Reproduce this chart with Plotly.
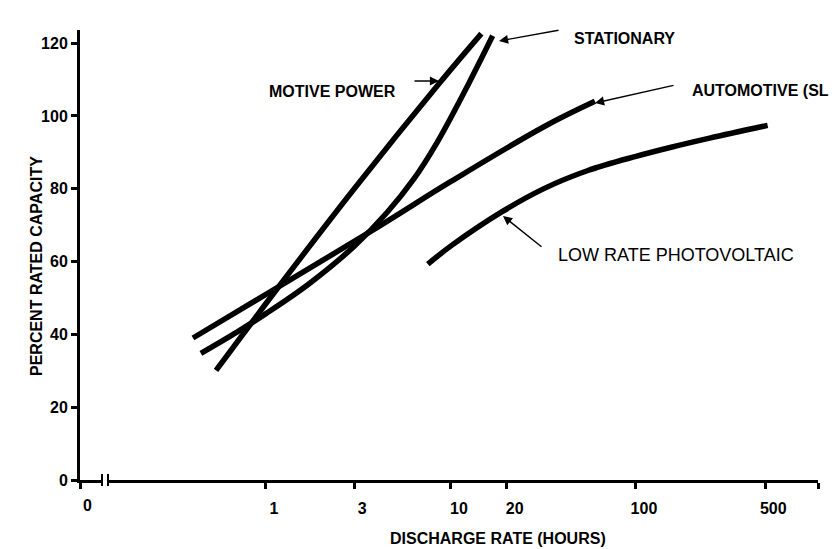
import math
import plotly.graph_objects as go

# ---- data ----
MOTIVE_H = [0.537, 1.16, 3.0, 8.7, 14.6]
MOTIVE_V = [30.1, 52.8, 80.0, 109.1, 122.6]

STATIONARY_H = [0.445, 0.7, 1.0, 1.69, 3.0, 4.5, 6.3, 8.5, 12.5, 16.8]
STATIONARY_V = [34.8, 40.7, 45.7, 53.7, 64.2, 73.4, 82.7, 93.1, 109.0, 122.0]

AUTOMOTIVE_H = [0.403, 1.0, 4.0, 10.0, 32.0, 60.0]
AUTOMOTIVE_V = [39.0, 51.0, 69.4, 82.0, 97.1, 104.0]

PV_H = [7.5, 10.0, 18.9, 32.0, 55.0, 100.0, 155.0, 250.0, 515.0]
PV_V = [59.3, 64.3, 73.7, 80.1, 85.0, 88.9, 91.4, 93.9, 97.4]

X_TICK_VALS = [1, 3, 10, 20, 100, 500]
X_TICK_TEXT = ["1", "3", "10", "20", "100", "500"]
Y_TICK_VALS = [0, 20, 40, 60, 80, 100, 120]

X_MIN, X_MAX = 0.0988, 964.0
Y_MAX = 123.6

FONT = "Liberation Sans, Arial, Helvetica, sans-serif"
BOLD = dict(family=FONT, size=16, color="black", weight="bold")

fig = go.Figure()
for h, v in [(MOTIVE_H, MOTIVE_V), (STATIONARY_H, STATIONARY_V),
             (AUTOMOTIVE_H, AUTOMOTIVE_V), (PV_H, PV_V)]:
    fig.add_trace(go.Scatter(x=h, y=v, mode="lines",
                             line=dict(color="black", width=5.5, shape="spline", smoothing=1.0),
                             showlegend=False, hoverinfo="skip"))

fig.update_layout(
    width=837, height=549,
    margin=dict(l=72, r=27, t=22, b=77),
    paper_bgcolor="white", plot_bgcolor="white",
    font=dict(family=FONT, size=16, color="black", weight="bold"),
    xaxis=dict(type="log", range=[math.log10(X_MIN), math.log10(X_MAX)],
               tickmode="array",
               tickvals=[X_MIN] + X_TICK_VALS + [X_MAX],
               ticktext=[""] + X_TICK_TEXT + [""],
               ticks="outside", ticklen=6, tickwidth=2.5, tickcolor="black",
               showline=True, linewidth=3, linecolor="black",
               showgrid=False, zeroline=False,
               ticklabelstandoff=6, ticklabelshift=8,
               tickfont=dict(family=FONT, size=16, color="black", weight="bold")),
    yaxis=dict(range=[0, Y_MAX], tickmode="array", tickvals=Y_TICK_VALS,
               ticks="outside", ticklen=6, tickwidth=2.5, tickcolor="black",
               showline=True, linewidth=3, linecolor="black",
               showgrid=False, zeroline=False,
               tickfont=dict(family=FONT, size=16, color="black", weight="bold")),
)

def px2paper(px, py):
    return (px - 72) / 738.0, (472 - py) / 450.0

anns = []
# "0" label at the axis origin (left of the axis break)
x, y = px2paper(73, 508)
anns.append(dict(x=x, y=y, xref="paper", yref="paper", text="0", showarrow=False,
                 font=dict(family=FONT, size=16, weight="bold")))
# axis titles
x, y = px2paper(490, 541)
anns.append(dict(x=x, y=y, xref="paper", yref="paper", text="DISCHARGE RATE (HOURS)",
                 showarrow=False, font=dict(family=FONT, size=16, weight="bold")))
x, y = px2paper(17.5, 258)
anns.append(dict(x=x, y=y, xref="paper", yref="paper", text="PERCENT RATED CAPACITY",
                 textangle=-90, showarrow=False, font=dict(family=FONT, size=16, weight="bold")))
# curve labels
for text, (cx, cy), anchor, fnt in [
    ("MOTIVE POWER", (324, 73), "center", BOLD),
    ("STATIONARY", (616, 20), "center", BOLD),
    ("AUTOMOTIVE (SLI)", (832, 72), "right", BOLD),
    ("LOW RATE PHOTOVOLTAIC", (548, 247), "left",
     dict(family=FONT, size=18, color="black", weight="normal")),
]:
    x, y = px2paper(cx, cy)
    anns.append(dict(x=x, y=y, xref="paper", yref="paper", text=text, xanchor=anchor,
                     showarrow=False, font=fnt))
# arrows: tip in pixel positions, tail offsets
for (tx, ty), (ax, ay) in [((431, 73), (-26, 0)), ((491, 33), (61, -11)),
                           ((587, 95), (80, -18)), ((495, 208), (40, 32))]:
    x, y = px2paper(tx, ty)
    anns.append(dict(x=x, y=y, xref="paper", yref="paper", text="", showarrow=True,
                     ax=ax, ay=ay, arrowhead=2, arrowsize=1.3, arrowwidth=1.4,
                     arrowcolor="black", standoff=0, startstandoff=0))
fig.update_layout(annotations=anns)

# axis break marks on the x axis
bx0, _ = px2paper(94, 472)
bx1, _ = px2paper(100, 472)
dy = 6 / 450.0
fig.add_shape(type="rect", xref="paper", yref="paper", x0=bx0, x1=bx1, y0=-dy / 2, y1=dy / 2,
              fillcolor="white", line=dict(width=0), layer="above")
for bx in (bx0, bx1):
    fig.add_shape(type="line", xref="paper", yref="paper", x0=bx, x1=bx, y0=-dy, y1=dy,
                  line=dict(color="black", width=2), layer="above")

fig.write_html("out.html")
